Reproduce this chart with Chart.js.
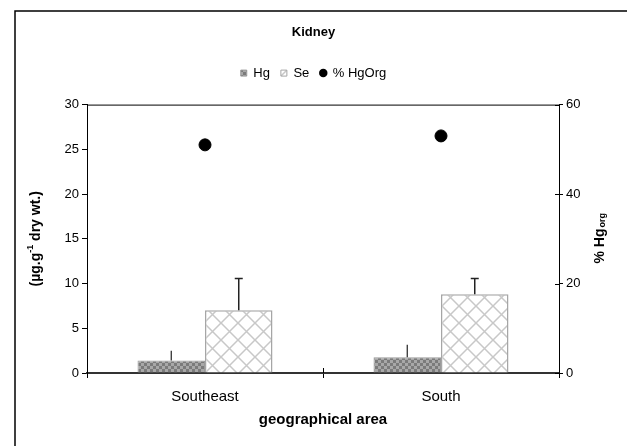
<!DOCTYPE html>
<html>
<head>
<meta charset="utf-8">
<script src="https://cdn.jsdelivr.net/npm/chart.js@4/dist/chart.umd.min.js"></script>
<style>
  html, body { margin: 0; padding: 0; background: #fff; }
</style>
</head>
<body>
<canvas id="myChart" width="627" height="446"></canvas>
<script>
// values
const areas = ['Southeast', 'South'];
const hgMean = [1.4, 1.75];
const hgErr = [1.1, 1.4];
const seMean = [7.0, 8.8];
const seErr = [3.55, 1.75];
const hgOrgPct = [51, 53];

const leftMin = 0, leftMax = 30, leftStep = 5;
const rightMin = 0, rightMax = 60, rightStep = 20;

const FONT = 'Arial, "Liberation Sans", sans-serif';

// fill patterns for the bars
function checkerPattern() {
    const c = document.createElement('canvas');
    c.width = 6; c.height = 6;
    const g = c.getContext('2d');
    g.fillStyle = '#7b7b7b';
    g.fillRect(0, 0, 6, 6);
    g.fillStyle = '#a8a8a8';
    g.fillRect(0, 0, 3, 3);
    g.fillRect(3, 3, 3, 3);
    return g.createPattern(c, 'repeat');
}

function crossPattern() {
    const s = 17;
    const c = document.createElement('canvas');
    c.width = s; c.height = s;
    const g = c.getContext('2d');
    g.fillStyle = '#fff';
    g.fillRect(0, 0, s, s);
    g.strokeStyle = '#c8c8c8';
    g.lineWidth = 1.5;
    g.beginPath();
    g.moveTo(0, 0); g.lineTo(s, s);
    g.moveTo(s, 0); g.lineTo(0, s);
    g.stroke();
    return g.createPattern(c, 'repeat');
}

const extras = {
    id: 'extras',
    beforeLayout(chart) {
        const lg = chart.legend;
        if (lg && !lg._patched) {
            const fit = lg.fit;
            lg.fit = function () { fit.call(this); this.height += 15; };
            lg._patched = true;
        }
    },
    beforeDraw(chart) {
        const ctx = chart.ctx;
        ctx.save();
        ctx.strokeStyle = '#000';
        ctx.lineWidth = 1.5;
        ctx.beginPath();
        ctx.moveTo(15, 446);
        ctx.lineTo(15, 11);
        ctx.lineTo(627, 11);
        ctx.stroke();
        ctx.restore();
    },
    afterDatasetsDraw(chart) {
        const ctx = chart.ctx;
        const y = chart.scales.y;
        ctx.save();
        [0, 1].forEach(di => {
            const ds = chart.data.datasets[di];
            chart.getDatasetMeta(di).data.forEach((bar, i) => {
                const top = y.getPixelForValue(ds.data[i] + ds.errors[i]);
                ctx.strokeStyle = '#222';
                ctx.lineWidth = ds.cap ? 1.5 : 1.2;
                ctx.beginPath();
                ctx.moveTo(bar.x, bar.y);
                ctx.lineTo(bar.x, top);
                if (ds.cap) {
                    ctx.moveTo(bar.x - ds.cap / 2, top);
                    ctx.lineTo(bar.x + ds.cap / 2, top);
                }
                ctx.stroke();
            });
        });
        ctx.restore();
    },
    afterDraw(chart) {
        const ctx = chart.ctx;
        const a = chart.chartArea;
        ctx.save();
        // top edge of the plot
        ctx.strokeStyle = '#000';
        ctx.lineWidth = 1;
        ctx.beginPath();
        ctx.moveTo(a.left, a.top + 0.5);
        ctx.lineTo(a.right, a.top + 0.5);
        // inner halves of crossing ticks
        chart.scales.y1.ticks.forEach(t => {
            const py = Math.round(chart.scales.y1.getPixelForValue(t.value)) + 0.5;
            ctx.moveTo(a.right - 4, py);
            ctx.lineTo(a.right, py);
        });
        const mid = Math.round((a.left + a.right) / 2) + 0.5;
        ctx.moveTo(mid, a.bottom - 5);
        ctx.lineTo(mid, a.bottom);
        ctx.stroke();

        ctx.fillStyle = '#000';
        ctx.textBaseline = 'middle';
        const cy = (a.top + a.bottom) / 2;

        // left axis title with superscript
        ctx.save();
        ctx.translate(36, cy);
        ctx.rotate(-Math.PI / 2);
        const big = 'bold 14px ' + FONT, small = 'bold 9px ' + FONT;
        const p1 = '(\u00b5g.g', p2 = '-1', p3 = ' dry wt.)';
        ctx.font = big; const w1 = ctx.measureText(p1).width, w3 = ctx.measureText(p3).width;
        ctx.font = small; const w2 = ctx.measureText(p2).width;
        let x = -(w1 + w2 + w3) / 2;
        ctx.textAlign = 'left';
        ctx.font = big; ctx.fillText(p1, x, 0); x += w1;
        ctx.font = small; ctx.fillText(p2, x, -5); x += w2;
        ctx.font = big; ctx.fillText(p3, x, 0);
        ctx.restore();

        // right axis title with subscript
        ctx.save();
        ctx.translate(600, cy);
        ctx.rotate(-Math.PI / 2);
        const q1 = '% Hg', q2 = 'org';
        ctx.font = big; const v1 = ctx.measureText(q1).width;
        ctx.font = small; const v2 = ctx.measureText(q2).width;
        x = -(v1 + v2) / 2;
        ctx.textAlign = 'left';
        ctx.font = big; ctx.fillText(q1, x, 0);
        ctx.font = small; ctx.fillText(q2, x + v1 + 1, 3);
        ctx.restore();

        // x axis title
        ctx.font = 'bold 15px ' + FONT;
        ctx.textAlign = 'center';
        ctx.fillText('geographical area', (a.left + a.right) / 2, 420);
        ctx.restore();
    }
};

const ctx = document.getElementById('myChart').getContext('2d');
const myChart = new Chart(ctx, {
    type: 'bar',
    data: {
        labels: areas,
        datasets: [{
            label: 'Hg',
            data: hgMean,
            errors: hgErr,
            cap: 0,
            backgroundColor: checkerPattern(),
            borderColor: '#9a9a9a',
            borderWidth: 1,
            yAxisID: 'y'
        }, {
            label: 'Se',
            data: seMean,
            errors: seErr,
            cap: 8,
            backgroundColor: crossPattern(),
            borderColor: '#a6a6a6',
            borderWidth: 1.5,
            yAxisID: 'y'
        }, {
            type: 'line',
            label: '% HgOrg',
            data: hgOrgPct,
            showLine: false,
            pointRadius: 6,
            pointBackgroundColor: '#000',
            pointBorderColor: '#000',
            backgroundColor: '#000',
            borderColor: '#000',
            yAxisID: 'y1'
        }]
    },
    options: {
        responsive: false,
        animation: false,
        layout: { padding: 0 },
        datasets: {
            bar: { categoryPercentage: 0.572, barPercentage: 1.0 }
        },
        plugins: {
            tooltip: { enabled: false },
            title: {
                display: true,
                text: 'Kidney',
                color: '#000',
                font: { family: FONT, size: 13, weight: 'bold' },
                padding: { top: 25, bottom: 15 }
            },
            legend: {
                labels: {
                    color: '#000',
                    font: { family: FONT, size: 13 },
                    usePointStyle: true,
                    boxWidth: 6,
                    boxHeight: 6,
                    padding: 11,
                    generateLabels(chart) {
                        const items = Chart.defaults.plugins.legend.labels.generateLabels(chart);
                        items.forEach((it, i) => {
                            it.pointStyle = i < 2 ? 'rect' : 'circle';
                            it.lineWidth = i < 2 ? 1 : 0;
                        });
                        return items;
                    }
                }
            }
        },
        scales: {
            x: {
                offset: true,
                grid: { offset: true, drawOnChartArea: false, tickLength: 5, color: '#000' },
                border: { color: '#333', width: 2 },
                ticks: { color: '#000', font: { family: FONT, size: 15 }, padding: 10 },
                afterFit: s => { s.height = 73; }
            },
            y: {
                position: 'left',
                min: leftMin, max: leftMax,
                ticks: { stepSize: leftStep, color: '#000', font: { family: FONT, size: 13 }, padding: 3 },
                grid: { drawOnChartArea: false, tickLength: 5, color: '#000' },
                border: { color: '#000', width: 1 },
                afterFit: s => { s.width = 87; }
            },
            y1: {
                position: 'right',
                min: rightMin, max: rightMax,
                ticks: { stepSize: rightStep, color: '#000', font: { family: FONT, size: 13 }, padding: 3 },
                grid: { drawOnChartArea: false, tickLength: 4, color: '#000' },
                border: { color: '#000', width: 1 },
                afterFit: s => { s.width = 68; }
            }
        }
    },
    plugins: [extras]
});
</script>
</body>
</html>
